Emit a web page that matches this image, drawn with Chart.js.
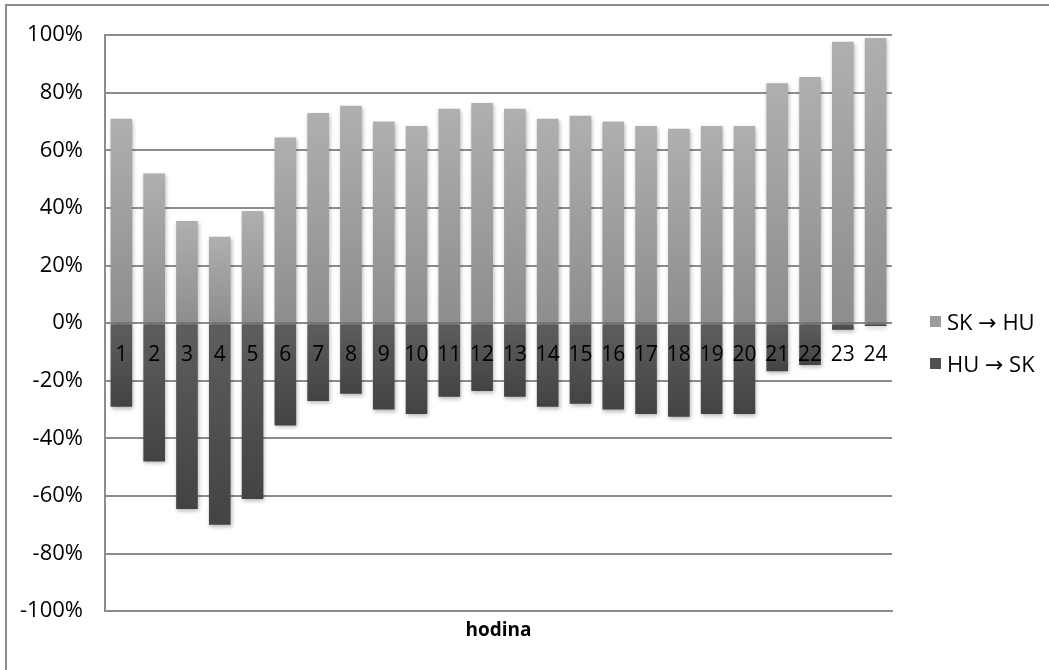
<!DOCTYPE html>
<html>
<head>
<meta charset="utf-8">
<title>SK / HU podľa hodiny</title>
<script src="https://cdn.jsdelivr.net/npm/chart.js@4.4.1/dist/chart.umd.min.js"></script>
<style>
    html, body { margin: 0; padding: 0; background: #fff; }
    #wrap { position: relative; width: 1049px; height: 670px; overflow: hidden; }
    #frame {
        position: absolute; left: 5px; top: 4px; right: -10px; bottom: -10px;
        border-left: 2px solid #8c8c8c; border-top: 2px solid #8c8c8c;
        pointer-events: none;
    }
    #flowChart { position: absolute; left: 0; top: 0; }
    #legend {
        position: absolute;
        font-family: 'Open Sans', 'DejaVu Sans', sans-serif;
        font-size: 22px; color: #000; line-height: 42px;
    }
    #legend .item { display: flex; align-items: center; white-space: nowrap; }
    #legend .box { width: 11px; height: 11px; margin-right: 6px; }
</style>
</head>
<body>
<div id="wrap">
    <canvas id="flowChart" width="1049" height="670"></canvas>
    <div id="legend"></div>
    <div id="frame"></div>
</div>
<script>
let hours = ['1', '2', '3', '4', '5', '6', '7', '8', '9', '10', '11', '12',
             '13', '14', '15', '16', '17', '18', '19', '20', '21', '22', '23', '24'];

// share of flow per hour, in percent
let skToHu = [71, 52, 35.5, 30, 39, 64.5, 73, 75.5, 70, 68.5, 74.5, 76.5,
              74.5, 71, 72, 70, 68.5, 67.5, 68.5, 68.5, 83.3, 85.5, 97.7, 99];
let huToSk = [-29, -48, -64.5, -70, -61, -35.5, -27, -24.5, -30, -31.5, -25.5, -23.5,
              -25.5, -29, -28, -30, -31.5, -32.5, -31.5, -31.5, -16.7, -14.5, -2.3, -1];

let seriesNames = ['SK \u2192 HU', 'HU \u2192 SK'];
let yTicks = { min: -100, max: 100, step: 20 };

const gridGray = '#8c8c8c';
const font = "'Open Sans', 'DejaVu Sans', sans-serif";
const flatColors = ['#9c9c9c', '#505050'];

// each bar gets its own vertical gradient, from its end back to the zero line
function barGradient(light, dark, flat) {
    return function(ctx) {
        if (ctx.dataIndex === undefined || ctx.raw === undefined) return flat;
        const y = ctx.chart.scales.y;
        const yEnd = y.getPixelForValue(ctx.raw);
        const yZero = y.getPixelForValue(0);
        const top = Math.min(yEnd, yZero), bottom = Math.max(yEnd, yZero);
        if (!isFinite(top) || bottom - top < 1) return flat;
        const g = ctx.chart.ctx.createLinearGradient(0, top, 0, bottom);
        g.addColorStop(0, light);
        g.addColorStop(1, dark);
        return g;
    };
}

// soft drop shadow under the bars
const barShadow = {
    id: 'barShadow',
    beforeDatasetsDraw(chart) {
        const c = chart.ctx;
        c.save();
        c.shadowColor = 'rgba(0, 0, 0, 0.28)';
        c.shadowBlur = 4;
        c.shadowOffsetX = 1;
        c.shadowOffsetY = 2;
    },
    afterDatasetsDraw(chart) {
        chart.ctx.restore();
    }
};

function buildLegend(chart) {
    const el = document.getElementById('legend');
    el.innerHTML = '';
    chart.data.datasets.forEach((ds, i) => {
        const item = document.createElement('div');
        item.className = 'item';
        const box = document.createElement('span');
        box.className = 'box';
        box.style.background = flatColors[i];
        item.appendChild(box);
        item.appendChild(document.createTextNode(ds.label));
        el.appendChild(item);
    });
    const area = chart.chartArea;
    const zero = chart.scales.y.getPixelForValue(0);
    el.style.left = (area.right + 38) + 'px';
    el.style.top = (zero - 21 - 2) + 'px';
}

function drawFlowChart() {
    const ctx = document.getElementById('flowChart');
    if (!ctx) {
        console.error('Canvas element for flowChart not found!');
        return;
    }
    const chart = new Chart(ctx, {
        type: 'bar',
        data: {
            labels: hours,
            datasets: [{
                label: seriesNames[0],
                data: skToHu,
                backgroundColor: barGradient('#afafaf', '#8d8d8d', flatColors[0]),
                borderWidth: 0
            }, {
                label: seriesNames[1],
                data: huToSk,
                backgroundColor: barGradient('#5e5e5e', '#434343', flatColors[1]),
                borderWidth: 0
            }]
        },
        options: {
            responsive: false,
            animation: false,
            categoryPercentage: 1,
            barPercentage: 0.66,
            layout: {
                padding: { top: 32, left: 0, right: 157, bottom: 24 }
            },
            plugins: {
                tooltip: { enabled: false },
                legend: { display: false }
            },
            scales: {
                x: {
                    stacked: true,
                    grid: { display: false, drawTicks: false },
                    border: { display: true, color: gridGray, width: 2 },
                    ticks: { display: false },
                    title: {
                        display: true,
                        text: 'hodina',
                        color: '#000',
                        padding: { top: 8, bottom: 4 },
                        font: { family: font, size: 19, weight: 'bold' }
                    }
                },
                // hour labels sit on the zero line, over the bars
                x2: {
                    axis: 'x',
                    type: 'category',
                    labels: hours,
                    offset: true,
                    position: { y: 0 },
                    grid: { display: false, drawTicks: false },
                    border: { display: false },
                    ticks: {
                        z: 1,
                        padding: 19,
                        color: '#000',
                        maxRotation: 0,
                        autoSkip: false,
                        font: { family: font, size: 21 }
                    }
                },
                y: {
                    stacked: true,
                    min: yTicks.min,
                    max: yTicks.max,
                    grid: { color: gridGray, lineWidth: 2, drawTicks: false },
                    border: { display: true, color: gridGray, width: 2 },
                    ticks: {
                        stepSize: yTicks.step,
                        padding: 22,
                        color: '#000',
                        font: { family: font, size: 22 },
                        callback: v => v + '%'
                    },
                    afterFit: scale => { scale.width = 105; }
                }
            }
        },
        plugins: [barShadow]
    });
    buildLegend(chart);
}

document.addEventListener('DOMContentLoaded', drawFlowChart);
</script>
</body>
</html>
